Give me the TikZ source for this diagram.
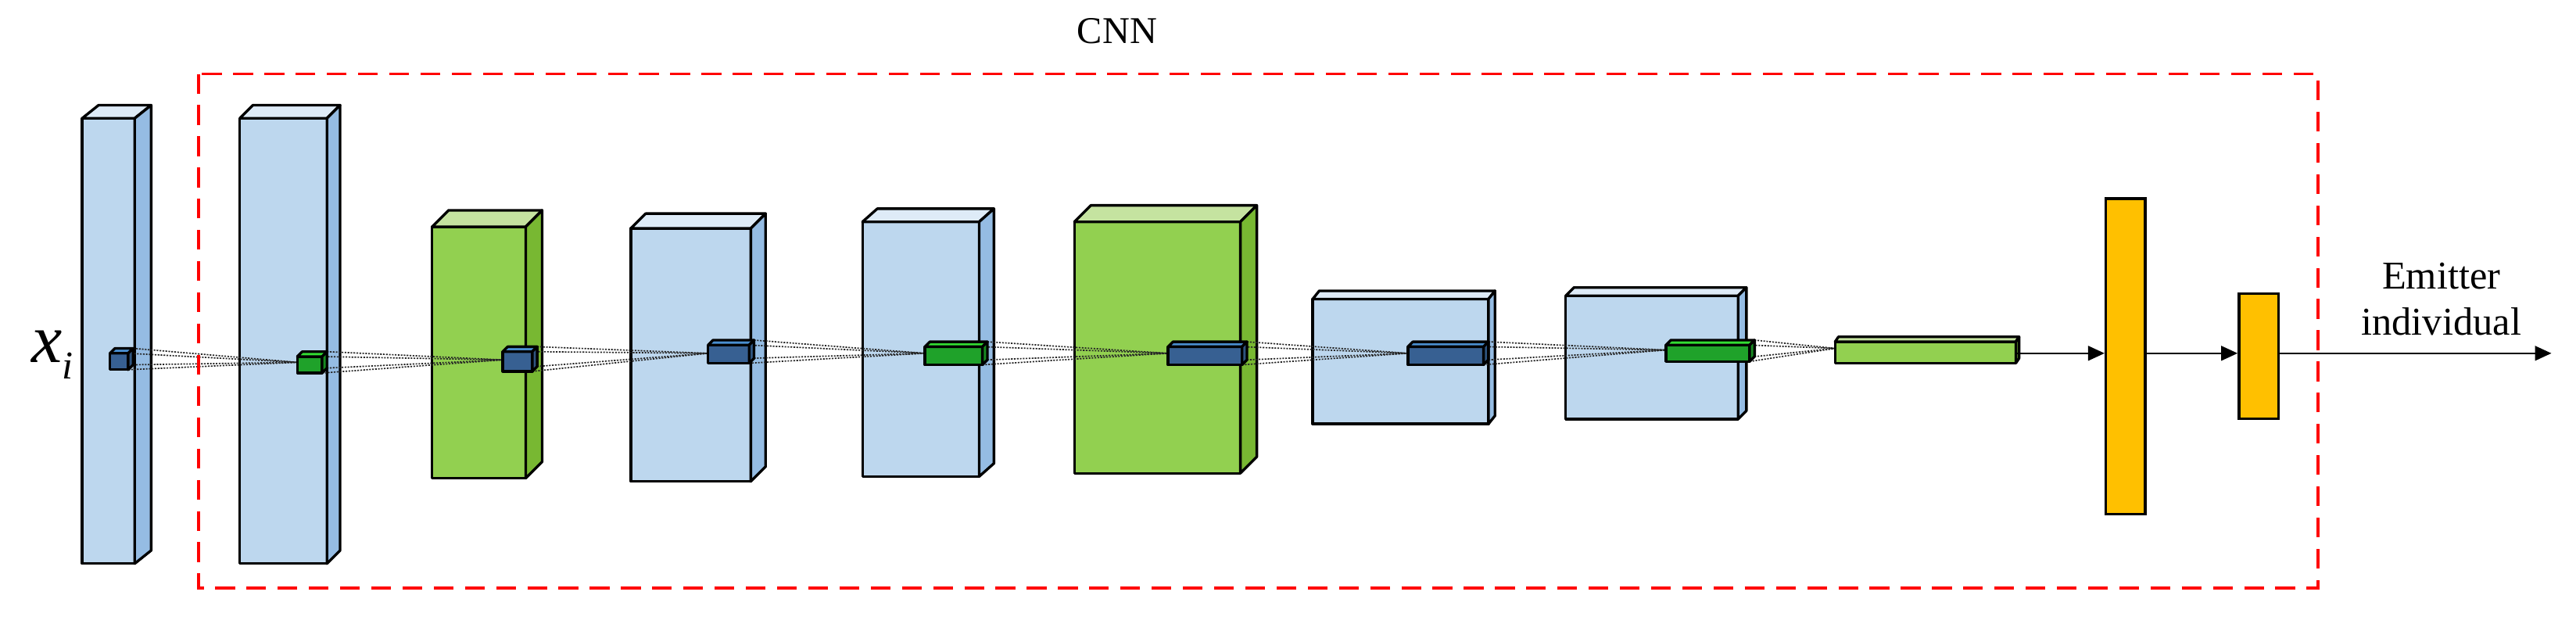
\documentclass[tikz,border=0pt]{standalone}
\usepackage{fontspec}
\setmainfont{Liberation Serif}
\usetikzlibrary{calc,arrows.meta}
\begin{document}
\definecolor{bF}{HTML}{BDD7EE}\definecolor{bS}{HTML}{95BCE3}\definecolor{bT}{HTML}{DEEBF7}
\definecolor{gF}{HTML}{92D050}\definecolor{gS}{HTML}{78B832}\definecolor{gT}{HTML}{C5E3A0}
\definecolor{dF}{HTML}{376092}\definecolor{dS}{HTML}{2F5580}\definecolor{dT}{HTML}{4A8FD0}
\definecolor{kF}{HTML}{1FA22A}\definecolor{kS}{HTML}{188A22}\definecolor{kT}{HTML}{33DD33}
\definecolor{yF}{HTML}{FFC000}
\newcommand\myblk[7]{%
 \filldraw[fill=#7F,blk] (#1,#2) rectangle (#3,#4);
 \filldraw[fill=#7T,blk] (#1,#2) -- ++(#5,-#6) -- ($(#3,#2)+(#5,-#6)$) -- (#3,#2) -- cycle;
 \filldraw[fill=#7S,blk] (#3,#2) -- ++(#5,-#6) -- ($(#3,#4)+(#5,-#6)$) -- (#3,#4) -- cycle;}
\newcommand\mylinks[7]{%
 \draw[dotl] (#3,#2) -- (#6,#7);
 \draw[dotl] (#3,#4) -- (#6,#7);
 \draw[dotl] ($(#3,#2)+(#5,-#5)$) -- (#6,#7);
 \draw[dotl] ($(#3,#4)+(#5,-#5)$) -- (#6,#7);}
\begin{tikzpicture}[x=1pt,y=-1pt,
  blk/.style={draw=black,line width=1.6pt,line join=round},
  dotl/.style={dash pattern=on 1pt off 0.8pt,line width=0.8pt,black!85},
  arr/.style={-{Triangle[length=10pt,width=9pt]},line width=0.8pt}]
\useasboundingbox (0,0) rectangle (1568,379.3);
% big blocks
\myblk{50}{72}{82}{343}{10}{8}{b}
\myblk{146}{72}{199}{343}{8}{8}{b}
\myblk{263}{138}{320}{291}{10}{10}{g}
\myblk{384}{139}{457}{293}{9}{9}{b}
\myblk{525}{135}{596}{290}{9}{8}{b}
\myblk{654}{135}{755}{288}{10}{10}{g}
\myblk{799}{182}{906}{258}{4}{5}{b}
\myblk{953}{180}{1058}{255}{5}{5}{b}
% links
\mylinks{67}{215}{78}{225}{3}{181}{220.5}
\mylinks{181}{217}{196}{227}{3}{306}{219}
\mylinks{306}{214}{324}{226}{3}{431}{215}
\mylinks{431}{210}{456}{221}{3}{563}{215}
\mylinks{563}{211}{598}{222}{3}{711}{215}
\mylinks{711}{211}{756}{222}{3}{857}{215}
\mylinks{857}{211}{903}{222}{3}{1014}{213}
\mylinks{1014}{210}{1065}{220}{3}{1117}{212}
% small cubes
\myblk{67}{215}{78}{225}{3}{3}{d}
\myblk{181}{217}{196}{227}{3}{3}{k}
\myblk{306}{214}{324}{226}{3}{3}{d}
\myblk{431}{210}{456}{221}{3}{3}{d}
\myblk{563}{211}{598}{222}{3}{3}{k}
\myblk{711}{211}{756}{222}{3}{3}{d}
\myblk{857}{211}{903}{222}{3}{3}{d}
\myblk{1014}{210}{1065}{220}{3}{3}{k}
% flat bar
\myblk{1117}{208}{1227}{221}{2}{3}{g}
% dense layers
\node[draw,line width=1.6pt,fill=yF,minimum width=24pt,minimum height=192pt,inner sep=0,anchor=north west] (fc1) at (1281,120) {};
\node[draw,line width=1.6pt,fill=yF,minimum width=24pt,minimum height=76pt,inner sep=0,anchor=north west] (fc2) at (1362,178) {};
\coordinate (barR) at (1227,215);
\coordinate (out) at (1553,215);
\draw[arr] (barR) -- (barR -| fc1.west);
\draw[arr] (fc1.east |- barR) -- (barR -| fc2.west);
\draw[arr] (fc2.east |- barR) -- (out);
% CNN box
\draw[red,line width=1.8pt,dash pattern=on 12pt off 7pt] (121,45) rectangle (1411,358);
\node[font=\fontsize{23}{27}\selectfont] (cnn) at (680,19) {CNN};
\node[font=\fontsize{24}{28}\selectfont,align=center] (em) at (1486,182) {Emitter\\individual};
\node[font=\fontsize{42}{42}\selectfont\itshape] (xi) at (32,216) {x\raisebox{-10pt}{\fontsize{24}{24}\selectfont i}};
\end{tikzpicture}
\end{document}
